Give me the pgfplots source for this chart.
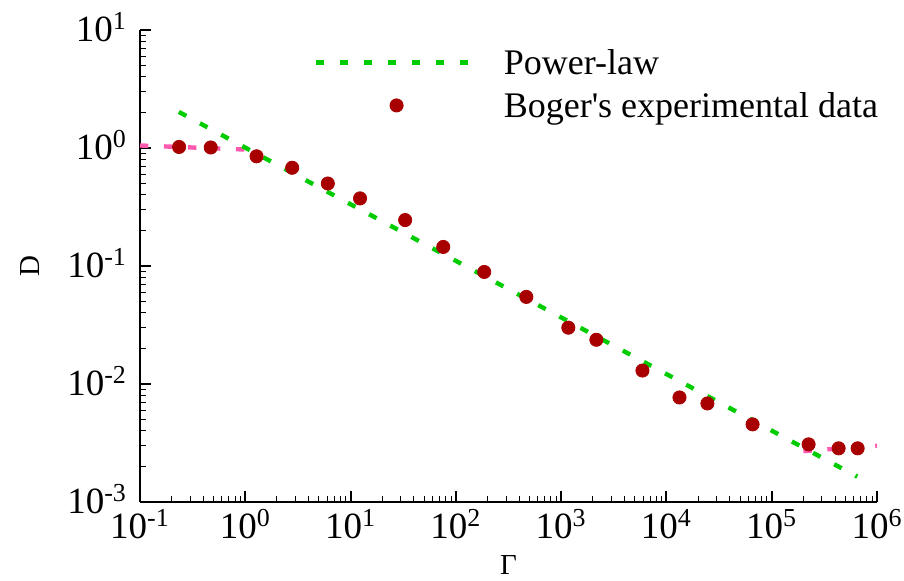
\documentclass[border=0pt]{standalone}
\usepackage{fontspec}
\setmainfont{Liberation Serif}
\newfontfamily\plainserif{Liberation Serif}
\usepackage{pgfplots}
\pgfplotsset{compat=1.18}
\definecolor{pgreen}{RGB}{0,204,0}
\definecolor{pred}{RGB}{168,0,0}
\definecolor{ppink}{RGB}{255,90,175}
\pgfplotsset{
  leglinecode/.style={legend image code/.code={\draw[##1] (0pt,0pt) -- (76pt,0pt);}},
  legmarkcode/.style={legend image code/.code={\path[draw=none,fill=none] (-1.1pt,-1pt) rectangle (77.1pt,1pt); \draw[##1] plot coordinates {(40.5pt,0pt)};}},
}
\begin{document}
\begin{tikzpicture}
\begin{axis}[
  name=ax,
  scale only axis, width=368.5pt, height=236pt,
  xmode=log, ymode=log,
  xmin=0.1, xmax=1e6, ymin=1e-3, ymax=10,
  axis x line*=bottom, axis y line*=left,
  axis line style={line width=1pt},
  tick align=inside,
  major tick length=5.5pt, minor tick length=3pt,
  every major tick/.append style={line width=1pt, black},
  every minor tick/.append style={line width=0.5pt, black},
  /pgf/number format/assume math mode=true,
  log number format basis/.code 2 args={\rmfamily #1\textsuperscript{\pgfmathprintnumber{#2}}},
  ticklabel style={font=\fontsize{18.5}{20}\selectfont},
  yticklabel style={xshift=-3pt, yshift=1.5pt},
  xlabel={Γ}, ylabel={D},
  label style={font=\fontsize{14.5}{16}\selectfont},
  xlabel style={at={(axis description cs:0.5,-0.133)}, anchor=center},
  ylabel style={at={(axis description cs:-0.149,0.5)}, anchor=center},
  legend style={draw=none, fill=none, at={(axis description cs:0.2347,0.966)}, anchor=north west,
    inner sep=0pt, row sep=5.5pt, font=\fontsize{18}{20}\selectfont,
    nodes={inner sep=0pt, text height=14pt, text depth=2pt}},
  legend cell align=left,
]
\addplot[ppink, line width=2.2pt, dash pattern=on 4.2pt off 7.8pt, forget plot]
  coordinates {(0.1,1.05) (1.0,0.97)};
\addplot[ppink, line width=2.2pt, dash pattern=on 4.2pt off 7.8pt, forget plot]
  coordinates {(2e5,0.0027) (1e6,0.0030)};
\addplot[pgreen, line width=2.2pt, dash pattern=on 4.2pt off 7.8pt, leglinecode]
  coordinates {(0.234,2.02) (6.5e5,0.00164)};
\addlegendentry{\hspace*{17pt}Power-law}
\addplot[only marks, mark=*, mark size=3.3pt, pred, mark options={draw=pred, fill=pred}, legmarkcode]
  coordinates {
  (0.235,1.02) (0.47,1.01) (1.28,0.85) (2.79,0.68) (6.08,0.50) (12.3,0.374)
  (33.0,0.245) (75.9,0.145) (186,0.089) (467,0.0547) (1170,0.030) (2160,0.0237)
  (5920,0.0130) (13300,0.00769) (24500,0.00684) (65800,0.00455)
  (224000,0.00308) (432000,0.00285) (655000,0.00285)
  };
\addlegendentry{\hspace*{17pt}{\plainserif Boger's experimental data}}
\end{axis}
\pgfresetboundingbox
\path (ax.south west) ++(-70pt,-39.5pt) rectangle ++(452pt,290.5pt);
\end{tikzpicture}
\end{document}
